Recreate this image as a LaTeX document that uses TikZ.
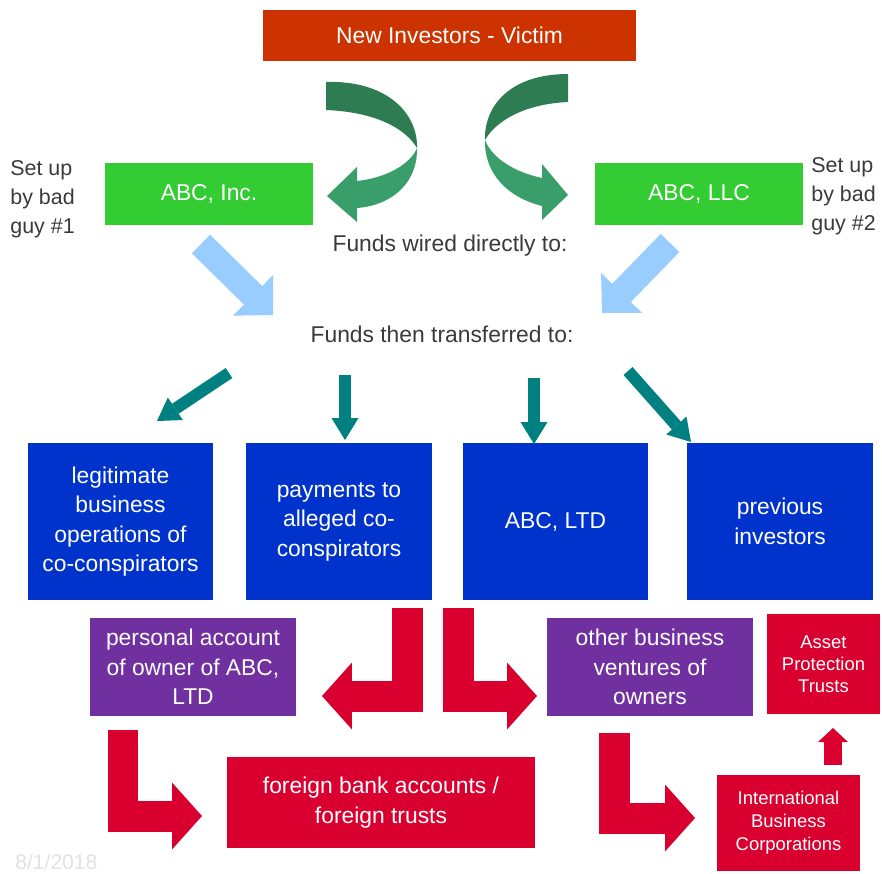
\documentclass[tikz,border=0pt]{standalone}
\usepackage{fontspec}
\setmainfont{Liberation Sans}
\usetikzlibrary{arrows.meta}

\definecolor{victimred}{HTML}{CC3300}
\definecolor{abcgreen}{HTML}{33CC33}
\definecolor{darkswirl}{HTML}{2E7D52}
\definecolor{lightswirl}{HTML}{3A9E6B}
\definecolor{skyblue}{HTML}{99CCFF}
\definecolor{tealarrow}{HTML}{008080}
\definecolor{royalblue}{HTML}{0033CC}
\definecolor{ownerpurple}{HTML}{7030A0}
\definecolor{moneyred}{HTML}{D9002F}
\definecolor{labelgray}{HTML}{3A3A3A}
\definecolor{dategray}{HTML}{E2E2E2}

\begin{document}
\begin{tikzpicture}[x=0.02cm, y=-0.02cm,
    box/.style={inner sep=0pt, text=white, align=center, font=\fontsize{13}{16.8}\selectfont},
    victimbox/.style={box, fill=victimred, minimum width=7.46cm, minimum height=1.02cm},
    firmbox/.style={box, fill=abcgreen, minimum width=4.16cm, minimum height=1.24cm},
    flowbox/.style={box, fill=royalblue, minimum width=3.72cm, minimum height=3.14cm},
    ownerbox/.style={box, fill=ownerpurple, minimum width=4.12cm, minimum height=1.96cm},
    offshorebox/.style={box, fill=moneyred},
    note/.style={text=labelgray, font=\fontsize{13}{16.8}\selectfont},
    wirearrow/.style={draw=skyblue, line width=0.52cm, -{Triangle[width=1.14cm, length=0.56cm, line width=0pt]}},
    splitarrow/.style={draw=tealarrow, line width=0.24cm, -{Triangle[width=0.54cm, length=0.44cm, line width=0pt]}},
    moneyarrow/.style={draw=moneyred, line width=0.62cm, line join=miter, -{Triangle[width=1.34cm, length=0.6cm, line width=0pt]}}]
  \useasboundingbox (0,0) rectangle (882,873);

  % Nodes
  \node[victimbox] (victim) at (449.5,35.5) {New Investors - Victim};
  \node[firmbox] (inc) at (209,194) {ABC, Inc.};
  \node[firmbox] (llc) at (699,194) {ABC, LLC};
  \node[note, inner sep=0pt, anchor=west, align=left, font=\fontsize{12.2}{16.5}\selectfont] (guy1) at (10,199) {Set up\\by bad\\guy \#1};
  \node[note, inner sep=0pt, anchor=west, align=left, font=\fontsize{12.2}{16.5}\selectfont] (guy2) at (811,196) {Set up\\by bad\\guy \#2};
  \node[note] (wired) at (450,246) {Funds wired directly to:};
  \node[note] (transferred) at (442,334) {Funds then transferred to:};

  \node[flowbox] (legit) at (120.5,521.5) {legitimate\\business\\operations of\\co-conspirators};
  \node[flowbox] (payments) at (339,521.5) {payments to\\alleged co-\\conspirators};
  \node[flowbox] (ltd) at (555.5,521.5) {ABC, LTD};
  \node[flowbox] (previous) at (780,521.5) {previous\\investors};

  \node[ownerbox] (personal) at (193,667) {personal account\\of owner of ABC,\\LTD};
  \node[ownerbox] (ventures) at (650,667) {other business\\ventures of\\owners};

  \node[offshorebox, minimum width=6.16cm, minimum height=1.82cm] (foreign) at (381,802.5) {foreign bank accounts /\\foreign trusts};
  \node[offshorebox, minimum width=2.26cm, minimum height=2cm, font=\fontsize{10.5}{12.5}\selectfont] (asset) at (823.5,664) {Asset\\Protection\\Trusts};
  \node[offshorebox, minimum width=2.86cm, minimum height=1.92cm, font=\fontsize{10.5}{13}\selectfont] (ibc) at (788.5,823) {International\\Business\\Corporations};

  \node[text=dategray, anchor=base west, inner sep=0pt, font=\fontsize{12}{14}\selectfont] (date) at (15,869) {8/1/2018};

  % Swirls
  \fill[darkswirl] (326,82) .. controls (385,80) and (418,112) .. (417,148) .. controls (405,128) and (375,112) .. (326,110) -- cycle;
  \fill[lightswirl] (417,148) .. controls (418,180) and (395,205) .. (357,208) -- (357,222) -- (327,196) -- (357,167) -- (357,181) .. controls (385,178) and (410,165) .. (417,148) -- cycle;
  \fill[darkswirl] (568,74) .. controls (511,74) and (484,105) .. (485,140) .. controls (496,121) and (524,104) .. (568,102) -- cycle;
  \fill[lightswirl] (485,140) .. controls (484,172) and (506,197) .. (542,206) -- (542,220) -- (568,195) -- (542,164) -- (542,178) .. controls (514,172) and (492,158) .. (485,140) -- cycle;

  % Edges
  \coordinate (incout) at (201,244);
  \coordinate (incin) at (273,315);
  \coordinate (llcout) at (670,243);
  \coordinate (llcin) at (602,313);
  \draw[wirearrow] (incout) -- (incin);
  \draw[wirearrow] (llcout) -- (llcin);

  \coordinate (s1) at (229,373);
  \coordinate (s2) at (345,375);
  \coordinate (s3) at (534,378);
  \coordinate (s4) at (628,371);
  \draw[splitarrow] (s1) -- (157,421);
  \draw[splitarrow] (s2) -- (345,440);
  \draw[splitarrow] (s3) -- (534,444);
  \draw[splitarrow] (s4) -- (691,442);

  \coordinate (m1) at (407.5,608);
  \coordinate (m2) at (458,608);
  \coordinate (m3) at (123,730);
  \coordinate (m4) at (614.5,733);
  \coordinate (m5) at (833,765);
  \coordinate (m5tip) at (833,728);
  \draw[moneyarrow] (m1) |- (322,696);
  \draw[moneyarrow] (m2) |- (537,696);
  \draw[moneyarrow] (m3) |- (202,816);
  \draw[moneyarrow] (m4) |- (695,818);
  \draw[moneyarrow, line width=0.36cm, -{Triangle[width=0.6cm, length=0.28cm, line width=0pt]}] (m5) -- (m5tip);
\end{tikzpicture}
\end{document}
